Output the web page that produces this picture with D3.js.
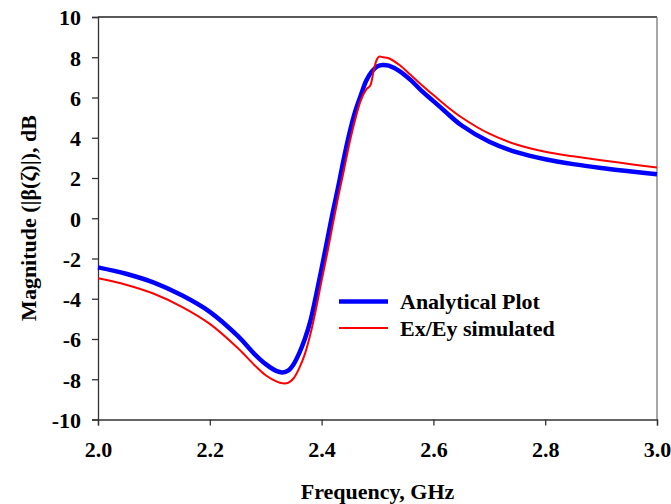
<!DOCTYPE html>
<html>
<head>
<meta charset="utf-8">
<script src="https://cdn.jsdelivr.net/npm/d3@7"></script>
<style>
  body { margin: 0; background: #fff; }
  text { font-family: "Liberation Serif", "Times New Roman", serif; font-weight: bold; }
</style>
</head>
<body>
<div class="canvas"></div>
<script>
// data
const blueFreq = [2.00, 2.05, 2.10, 2.15, 2.20, 2.25, 2.28, 2.30, 2.32, 2.33, 2.34, 2.35, 2.36, 2.37, 2.38, 2.39,
                  2.40, 2.41, 2.42, 2.43, 2.44, 2.45, 2.46, 2.47, 2.48, 2.49, 2.50, 2.51, 2.52, 2.54, 2.56, 2.58,
                  2.60, 2.62, 2.65, 2.70, 2.75, 2.80, 2.85, 2.90, 2.95, 3.00];
const blueMag = [-2.44, -2.76, -3.20, -3.83, -4.65, -5.85, -6.75, -7.25, -7.60, -7.66, -7.57, -7.25, -6.70, -6.00, -5.10, -3.85,
                 -2.50, -1.10, 0.30, 1.60, 3.00, 4.25, 5.30, 6.10, 6.85, 7.30, 7.55, 7.62, 7.58, 7.30, 6.85, 6.30,
                 5.82, 5.33, 4.62, 3.80, 3.27, 2.93, 2.69, 2.50, 2.34, 2.19];

const redFreq = [2.00, 2.05, 2.10, 2.15, 2.20, 2.25, 2.28, 2.30, 2.32, 2.33, 2.34, 2.35, 2.36, 2.37, 2.38, 2.39, 2.40,
                 2.41, 2.42, 2.43, 2.44, 2.45, 2.46, 2.47, 2.48, 2.487, 2.493, 2.499, 2.503, 2.51, 2.52, 2.54, 2.56,
                 2.58, 2.60, 2.62, 2.65, 2.70, 2.75, 2.80, 2.85, 2.90, 2.95, 3.00];
const redMag = [-2.98, -3.30, -3.75, -4.40, -5.25, -6.45, -7.30, -7.80, -8.12, -8.20, -8.18, -7.95, -7.45, -6.75, -5.75, -4.50, -3.10,
                -1.75, -0.30, 1.10, 2.40, 3.75, 4.90, 5.85, 6.40, 6.60, 7.30, 7.90, 8.03, 8.00, 7.95, 7.60, 7.10,
                6.60, 6.12, 5.65, 5.02, 4.20, 3.65, 3.30, 3.08, 2.88, 2.70, 2.52];

const xTicks = [2.0, 2.2, 2.4, 2.6, 2.8, 3.0];
const yTicks = [-10, -8, -6, -4, -2, 0, 2, 4, 6, 8, 10];
const legendLabels = ['Analytical Plot', 'Ex/Ey simulated'];

const width = 671, height = 504;
const margins = {top: 17, left: 98, bottom: 84.5, right: 14};
const graphWidth = width - margins.left - margins.right;
const graphHeight = height - margins.top - margins.bottom;

const svg = d3.select('.canvas')
    .append('svg')
    .attr('width', width)
    .attr('height', height);

const graph = svg.append('g')
    .attr('transform', 'translate(' + margins.left + ',' + margins.top + ')');

const x = d3.scaleLinear().domain([2.0, 3.0]).range([0, graphWidth]);
const y = d3.scaleLinear().domain([-10, 10]).range([graphHeight, 0]);

// frame top + right
graph.append('line')
    .attr('x1', 0).attr('x2', graphWidth).attr('y1', 0).attr('y2', 0)
    .attr('stroke', '#222').attr('stroke-width', 1.3);
graph.append('line')
    .attr('x1', graphWidth).attr('x2', graphWidth).attr('y1', 0).attr('y2', graphHeight)
    .attr('stroke', '#777').attr('stroke-width', 1.3);

// axes
const xAxis = d3.axisBottom(x).tickValues(xTicks).tickFormat(d3.format('.1f')).tickSize(6).tickPadding(16);
const yAxis = d3.axisLeft(y).tickValues(yTicks).tickFormat(d => d).tickSize(6).tickPadding(11);

const xAxisGroup = graph.append('g')
    .attr('transform', 'translate(0,' + graphHeight + ')')
    .call(xAxis);
const yAxisGroup = graph.append('g').call(yAxis);

[xAxisGroup, yAxisGroup].forEach(g => {
    g.select('.domain').attr('stroke', '#333').attr('stroke-width', 1.3);
    g.selectAll('.tick line').attr('stroke', '#333').attr('stroke-width', 1.3);
    g.selectAll('.tick text')
        .attr('fill', '#000')
        .style('font-size', '22px')
        .style('font-family', '"Liberation Serif", "Times New Roman", serif')
        .style('font-weight', 'bold');
});
yAxisGroup.selectAll('.tick text').attr('dy', '0.36em');

// lines
const line = d3.line()
    .x(d => x(d[0]))
    .y(d => y(d[1]))
    .curve(d3.curveCatmullRom.alpha(0.5));

const redData = redFreq.map((f, i) => [f, redMag[i]]);
const blueData = blueFreq.map((f, i) => [f, blueMag[i]]);

graph.append('path')
    .datum(blueData)
    .attr('d', line)
    .attr('fill', 'none')
    .attr('stroke', '#0000ff')
    .attr('stroke-width', 4.5);

graph.append('path')
    .datum(redData)
    .attr('d', line)
    .attr('fill', 'none')
    .attr('stroke', '#ff0000')
    .attr('stroke-width', 2);

// legend
const legend = svg.append('g');
const legendColors = ['#0000ff', '#ff0000'];
const legendWidths = [4.5, 2];
legendLabels.forEach((label, i) => {
    const ly = 301.5 + i * 26.5;
    legend.append('line')
        .attr('x1', 339).attr('x2', 388)
        .attr('y1', ly).attr('y2', ly)
        .attr('stroke', legendColors[i])
        .attr('stroke-width', legendWidths[i]);
    legend.append('text')
        .attr('x', 400).attr('y', ly + 7.5)
        .style('font-size', '22px')
        .text(label);
});

// axis titles
svg.append('text')
    .attr('x', margins.left + graphWidth / 2)
    .attr('y', 499)
    .attr('text-anchor', 'middle')
    .style('font-size', '22px')
    .text('Frequency, GHz');

svg.append('text')
    .attr('transform', 'translate(36,218) rotate(-90)')
    .attr('text-anchor', 'middle')
    .style('font-size', '22px')
    .text('Magnitude (|β(ζ)|), dB');
</script>
</body>
</html>
